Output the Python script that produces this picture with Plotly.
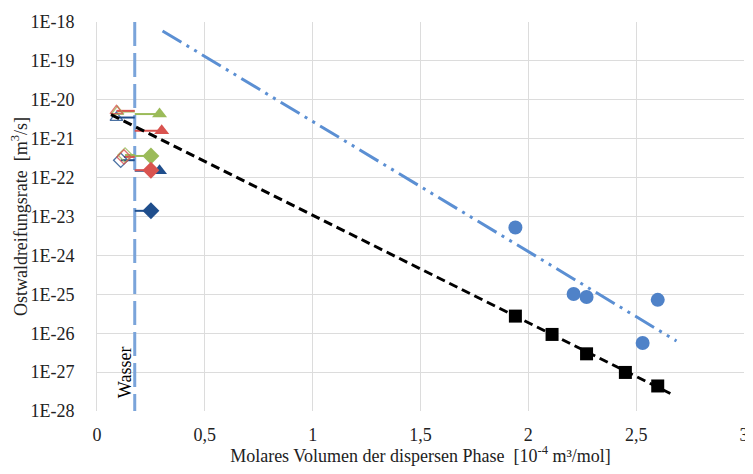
import plotly.graph_objects as go

# ---- data ----
water_x = 0.175
water_y = [1e-18, 1e-28]

square_x = [1.94, 2.11, 2.27, 2.45, 2.60]
square_y = [2.75e-26, 9.3e-27, 2.95e-27, 9.8e-28, 4.4e-28]

circle_x = [1.94, 2.21, 2.27, 2.60, 2.53]
circle_y = [5.2e-24, 1.02e-25, 8.5e-26, 7.2e-26, 5.6e-27]

black_fit_x = [0.065, 2.673]
black_fit_y = [4.17e-21, 2.57e-28]

blue_fit_x = [0.304, 2.687]
blue_fit_y = [5.9e-19, 6.3e-27]

# small series around the water line
series_names = ["tri_blue", "tri_green", "tri_red", "dia_blue", "dia_green", "dia_red"]
series_symbol = ["triangle-up", "triangle-up", "triangle-up", "diamond", "diamond", "diamond"]
series_color = ["#1F4E8C", "#9BBB59", "#D9534F", "#1F4E8C", "#9BBB59", "#D9534F"]
hollow_x = [0.09, 0.095, 0.09, 0.11, 0.13, 0.125]
hollow_y = [3.5e-21, 5.0e-21, 5.2e-21, 2.8e-22, 3.8e-22, 3.4e-22]
filled_x = [0.29, 0.29, 0.30, 0.25, 0.25, 0.25]
filled_y = [1.5e-22, 4.3e-21, 1.6e-21, 1.4e-23, 3.6e-22, 1.55e-22]

x_ticks = [0, 0.5, 1, 1.5, 2, 2.5, 3]
x_ticktext = ["0", "0,5", "1", "1,5", "2", "2,5", "3"]
y_ticks = [10.0 ** e for e in range(-28, -17)]
y_ticktext = ["1E%d" % e for e in range(-28, -17)]

serif = "Liberation Serif"

fig = go.Figure()

# water line
fig.add_trace(go.Scatter(x=[water_x, water_x], y=water_y, mode="lines",
                         line=dict(color="#7AA4DA", width=3, dash="24px,7px"),
                         showlegend=False, hoverinfo="skip"))

# connector lines & markers for small series
for i in range(len(series_names)):
    c = series_color[i]
    fig.add_trace(go.Scatter(
        x=[hollow_x[i], water_x, None, water_x, filled_x[i]],
        y=[hollow_y[i], hollow_y[i], None, filled_y[i], filled_y[i]],
        mode="lines", line=dict(color=c, width=2), showlegend=False, hoverinfo="skip"))
for i in range(len(series_names)):
    c = series_color[i]
    fig.add_trace(go.Scatter(
        x=[hollow_x[i]], y=[hollow_y[i]], mode="markers",
        marker=dict(symbol=series_symbol[i] + "-open", size=11, color=c,
                    line=dict(color=c, width=1.3)),
        opacity=0.8, showlegend=False))
    fig.add_trace(go.Scatter(
        x=[filled_x[i]], y=[filled_y[i]], mode="markers",
        marker=dict(symbol=series_symbol[i], size=13, color=c),
        showlegend=False))

# fits
fig.add_trace(go.Scatter(x=blue_fit_x, y=blue_fit_y, mode="lines",
                         line=dict(color="#5B8FD3", width=3, dash="22px,6px,3px,6px,3px,6px"),
                         showlegend=False))
fig.add_trace(go.Scatter(x=black_fit_x, y=black_fit_y, mode="lines",
                         line=dict(color="black", width=3, dash="9px,5px"),
                         showlegend=False))

fig.add_trace(go.Scatter(x=circle_x, y=circle_y, mode="markers",
                         marker=dict(symbol="circle", size=14, color="#4F82C8"),
                         showlegend=False))
fig.add_trace(go.Scatter(x=square_x, y=square_y, mode="markers",
                         marker=dict(symbol="square", size=13, color="black"),
                         showlegend=False))

fig.add_annotation(x=0.13, y=-27.0, xref="x", yref="y", text="Wasser", textangle=-90,
                   showarrow=False, font=dict(family=serif, size=18, color="black"))

# page body has an 8px default margin -> figure is shifted; compensate
fig.update_layout(
    width=745, height=458,
    margin=dict(l=89, r=4, t=10, b=53),
    paper_bgcolor="white", plot_bgcolor="white",
    font=dict(family=serif, size=18, color="#222222"),
    xaxis=dict(range=[0, 3], tickvals=x_ticks, ticktext=x_ticktext,
               showgrid=True, gridcolor="#DCDCDC", gridwidth=1,
               zeroline=False, showline=False, ticks="", ticklabelstandoff=11,
               ticklabeloverflow="allow",
               tickfont=dict(family=serif, size=18, color="#222222"),
               title=dict(text="Molares Volumen der dispersen Phase  [10<sup>-4</sup> m³/mol]",
                          font=dict(family=serif, size=18, color="#222222"), standoff=4)),
    yaxis=dict(type="log", range=[-28, -18], tickvals=y_ticks, ticktext=y_ticktext,
               showgrid=True, gridcolor="#DCDCDC", gridwidth=1,
               zeroline=False, showline=True, linecolor="#DCDCDC", ticks="",
               ticklabelstandoff=18,
               tickfont=dict(family=serif, size=18, color="#222222"),
               title=dict(text="Ostwaldreifungsrate  [m<sup>3</sup>/s]",
                          font=dict(family=serif, size=18, color="#222222"), standoff=4)),
)

fig.write_html("out.html")
